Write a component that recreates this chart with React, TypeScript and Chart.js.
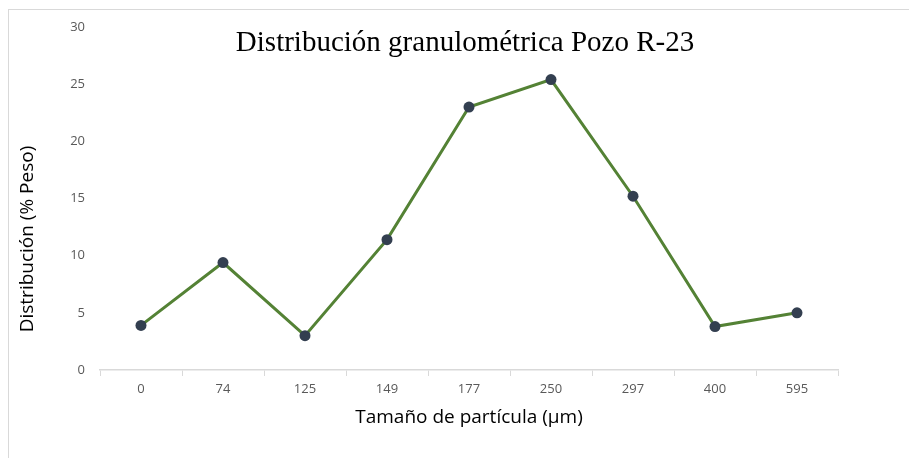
import React, { useEffect, useRef } from "react";
import { Chart, registerables } from "chart.js";

Chart.register(...registerables);

const categories = ["0", "74", "125", "149", "177", "250", "297", "400", "595"];
const distribution = [3.9, 9.4, 3.0, 11.4, 23.0, 25.4, 15.2, 3.8, 5.0];
const yTicks = [0, 5, 10, 15, 20, 25, 30];
const chartTitle = "Distribución granulométrica Pozo R-23";
const xTitle = "Tamaño de partícula (μm)";
const yTitle = "Distribución (% Peso)";

const titlePlugin = {
  id: "overlayTitles",
  afterDraw(chart: any) {
    const ctx = chart.ctx;
    ctx.save();
    ctx.font = "29px 'Liberation Serif', 'Times New Roman', serif";
    ctx.fillStyle = "#000000";
    ctx.textAlign = "center";
    ctx.textBaseline = "alphabetic";
    ctx.fillText(chartTitle, 456, 41);
    ctx.restore();

    ctx.save();
    ctx.font = "19px 'Open Sans', sans-serif";
    ctx.fillStyle = "#000000";
    ctx.textAlign = "center";
    ctx.textBaseline = "middle";
    ctx.translate(19, 229);
    ctx.rotate(-Math.PI / 2);
    ctx.fillText(yTitle, 0, 0);
    ctx.restore();
  },
};

export default function App() {
  const ref = useRef<HTMLCanvasElement>(null);
  useEffect(() => {
    if (!ref.current) return;
    const chart = new Chart(ref.current, {
      type: "line",
      data: {
        labels: categories,
        datasets: [
          {
            data: distribution,
            borderColor: "#548235",
            borderWidth: 3,
            backgroundColor: "#333F50",
            pointBackgroundColor: "#333F50",
            pointBorderColor: "#333F50",
            pointRadius: 5.5,
            pointBorderWidth: 0,
            tension: 0,
            fill: false,
          },
        ],
      },
      plugins: [titlePlugin],
      options: {
        animation: false,
        responsive: false,
        maintainAspectRatio: false,
        layout: { padding: { left: 0, right: 71, top: 17, bottom: 0 } },
        plugins: {
          legend: { display: false },
          title: { display: false },
          tooltip: { enabled: false },
        },
        scales: {
          x: {
            type: "category",
            offset: true,
            grid: {
              offset: true,
              drawOnChartArea: false,
              drawTicks: true,
              tickLength: 6,
              color: "#d9d9d9",
              lineWidth: 1,
            },
            border: { display: true, color: "#d9d9d9", width: 1.5 },
            ticks: {
              color: "#595959",
              font: { family: "'Open Sans', sans-serif", size: 13 },
              padding: 5,
              maxRotation: 0,
              autoSkip: false,
            },
            title: {
              display: true,
              text: xTitle,
              color: "#000000",
              font: { family: "'Open Sans', sans-serif", size: 19 },
              padding: { top: 0, bottom: 29.5 },
            },
            afterFit: (scale: any) => {
              scale.height = 88;
            },
          },
          y: {
            min: 0,
            max: 30,
            afterBuildTicks: (scale: any) => {
              scale.ticks = yTicks.map((v) => ({ value: v }));
            },
            grid: { display: false, drawTicks: false },
            border: { display: false },
            ticks: {
              color: "#595959",
              font: { family: "'Open Sans', sans-serif", size: 13 },
              padding: 15,
            },
            title: { display: false },
            afterFit: (scale: any) => {
              scale.width = 91;
              scale.paddingTop = 0;
              scale.paddingBottom = 0;
            },
          },
        },
      },
    });
    return () => chart.destroy();
  }, []);

  return (
    <div
      style={{
        position: "absolute",
        left: 8,
        top: 9,
        width: 901,
        height: 449,
        borderTop: "1px solid #d9d9d9",
        borderLeft: "1px solid #d9d9d9",
        boxSizing: "border-box",
        background: "#ffffff",
      }}
    >
      <canvas ref={ref} width={900} height={448} style={{ display: "block" }} />
    </div>
  );
}
